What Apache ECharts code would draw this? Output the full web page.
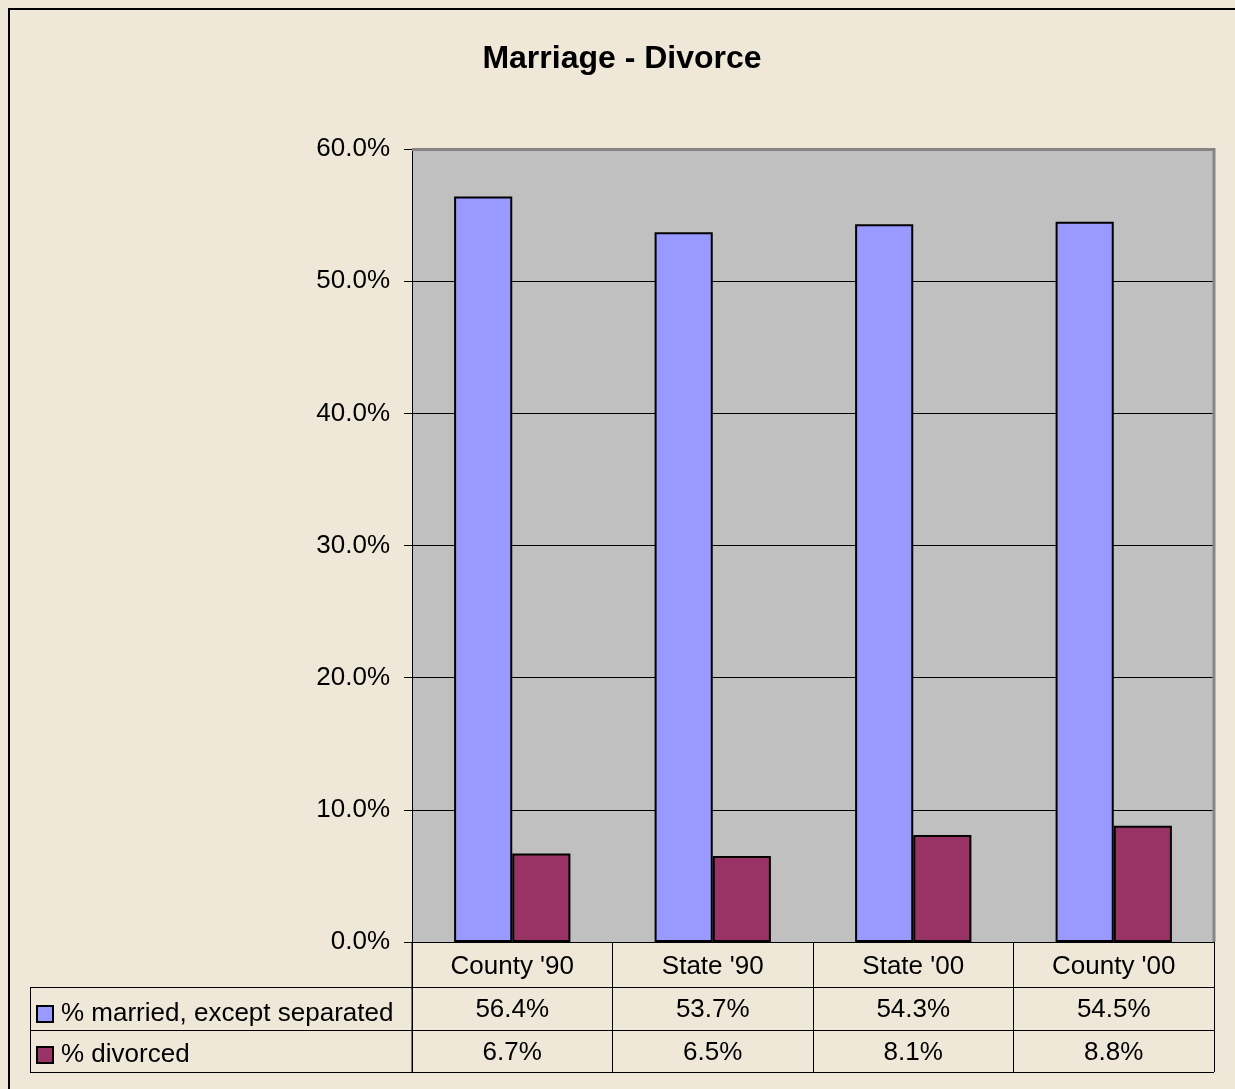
<!DOCTYPE html>
<html>
<head>
<meta charset="utf-8">
<script src="https://cdn.jsdelivr.net/npm/echarts@6/dist/echarts.min.js"></script>
<style>
  html, body { margin: 0; padding: 0; background: #efe7d8; }
  #chart { width: 1235px; height: 1089px; }
</style>
</head>
<body>
<div id="chart"></div>
<script>
const categories = ["County '90", "State '90", "State '00", "County '00"];
const seriesNames = ["% married, except separated", "% divorced"];
const married = [56.4, 53.7, 54.3, 54.5];
const divorced = [6.7, 6.5, 8.1, 8.8];

const chart = echarts.init(document.getElementById("chart"));
const font = "Liberation Sans, Arial, sans-serif";

// table line positions (pixels)
const tableLeft = 30, plotLeft = 412, plotRight = 1214, plotTop = 149;
const rowLines = [987, 1030, 1072];

const graphics = [
  {
    type: "rect",
    shape: { x: 9, y: 9, width: 1260, height: 1120 },
    style: { fill: "none", stroke: "#000", lineWidth: 2 }
  },
  {
    type: "line",
    shape: { x1: tableLeft + 0.5, y1: 987, x2: tableLeft + 0.5, y2: 1072 },
    style: { stroke: "#000", lineWidth: 1 }
  },
  {
    type: "line",
    shape: { x1: plotLeft, y1: 942, x2: plotLeft, y2: 1072 },
    style: { stroke: "#000", lineWidth: 1 }
  },
  {
    type: "polyline",
    z: 100,
    shape: { points: [[plotLeft, plotTop + 0.5], [plotRight, plotTop + 0.5], [plotRight, 942]] },
    style: { fill: "none", stroke: "#868686", lineWidth: 3 }
  }
];
rowLines.forEach(function (y) {
  graphics.push({
    type: "line",
    shape: { x1: tableLeft, y1: y + 0.5, x2: plotRight, y2: y + 0.5 },
    style: { stroke: "#000", lineWidth: 1 }
  });
});

const option = {
  backgroundColor: "#efe7d8",
  textStyle: { fontFamily: font },
  title: {
    text: "Marriage - Divorce",
    left: 617,
    textAlign: "center",
    top: 38,
    textStyle: { fontFamily: font, fontSize: 32, fontWeight: "bold", color: "#000" }
  },
  legend: {
    orient: "vertical",
    left: 31,
    top: 996,
    icon: "rect",
    itemWidth: 16,
    itemHeight: 16,
    itemGap: 15,
    data: seriesNames,
    textStyle: { fontFamily: font, fontSize: 26, color: "#000", padding: [0, 0, 0, 3] }
  },
  grid: {
    left: plotLeft,
    right: 1235 - plotRight,
    top: plotTop,
    bottom: 1089 - 942,
    show: true,
    backgroundColor: "#c0c0c0",
    borderWidth: 0
  },
  xAxis: {
    type: "category",
    data: categories,
    axisLine: { lineStyle: { color: "#000", width: 1 } },
    axisTick: { show: true, length: 130, lineStyle: { color: "#000" } },
    axisLabel: {
      margin: 3,
      color: "#000",
      fontFamily: font,
      fontSize: 26,
      lineHeight: 43,
      formatter: function (value, idx) {
        return value + "\n" + married[idx].toFixed(1) + "%\n" + divorced[idx].toFixed(1) + "%";
      }
    }
  },
  yAxis: {
    type: "value",
    min: 0,
    max: 60,
    interval: 10,
    axisLine: { show: true, lineStyle: { color: "#000", width: 1 } },
    axisTick: { show: true, length: 8, lineStyle: { color: "#000" } },
    axisLabel: {
      margin: 22,
      color: "#000",
      fontFamily: font,
      fontSize: 26,
      formatter: function (v) { return v.toFixed(1) + "%"; }
    },
    splitLine: { lineStyle: { color: "#000", width: 1 } }
  },
  series: [
    {
      name: seriesNames[0],
      type: "bar",
      data: married,
      barGap: "0%",
      barCategoryGap: "42%",
      itemStyle: { color: "#9999ff", borderColor: "#000", borderWidth: 2 }
    },
    {
      name: seriesNames[1],
      type: "bar",
      data: divorced,
      itemStyle: { color: "#993366", borderColor: "#000", borderWidth: 2 }
    }
  ],
  graphic: graphics
};

chart.setOption(option);
</script>
</body>
</html>
